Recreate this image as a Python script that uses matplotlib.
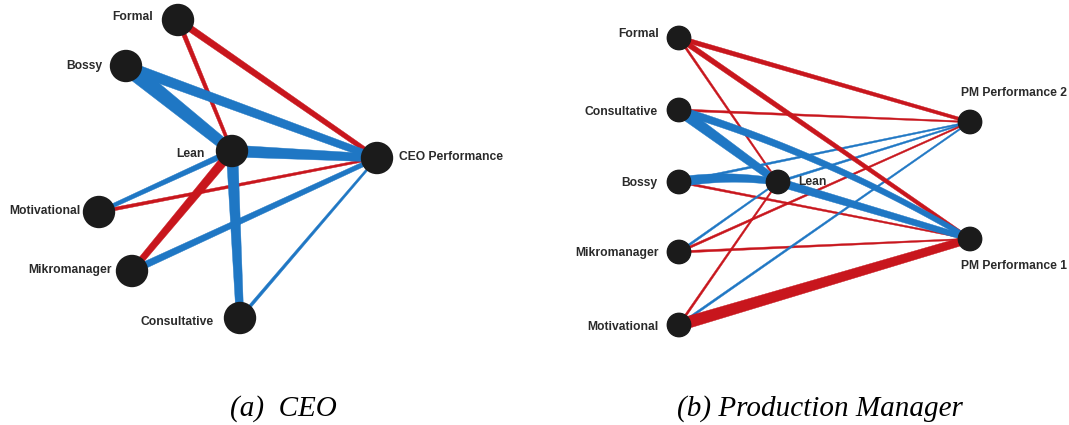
import matplotlib
matplotlib.use("Agg")
import numpy as np
import matplotlib.pyplot as plt
from matplotlib.patches import Circle, Polygon

# ---------------- data ----------------
# (a) CEO network: edge endpoints and signed edge weights (blue = positive, red = negative)
ceo_nodes = ["Formal", "Bossy", "Lean", "CEO Performance", "Motivational", "Mikromanager", "Consultative"]
ceo_src = ["Formal", "Formal", "Bossy", "Bossy", "Lean", "Lean", "Motivational", "Lean",
           "Mikromanager", "Lean", "Consultative"]
ceo_dst = ["CEO Performance", "Lean", "Lean", "CEO Performance", "CEO Performance", "Motivational",
           "CEO Performance", "Mikromanager", "CEO Performance", "Consultative", "CEO Performance"]
ceo_w = [-0.30, -0.20, 0.70, 0.46, 0.52, 0.25, -0.15, -0.40, 0.30, 0.50, 0.14]

# (b) Production Manager network
pm_nodes = ["Formal", "Consultative", "Bossy", "Mikromanager", "Motivational", "Lean",
            "PM Performance 2", "PM Performance 1"]
pm_src = ["Formal", "Formal", "Formal", "Consultative", "Consultative", "Consultative",
          "Bossy", "Bossy", "Bossy", "Lean", "Lean", "Mikromanager", "Mikromanager",
          "Mikromanager", "Motivational", "Motivational", "Motivational"]
pm_dst = ["PM Performance 2", "PM Performance 1", "Lean", "PM Performance 2", "Lean",
          "PM Performance 1", "Lean", "PM Performance 2", "PM Performance 1",
          "PM Performance 1", "PM Performance 2", "Lean", "PM Performance 2",
          "PM Performance 1", "Lean", "PM Performance 2", "PM Performance 1"]
pm_w = [-0.21, -0.23, -0.10, -0.10, 0.48, 0.33, 0.44, 0.10, -0.10, 0.36, 0.10,
        0.10, -0.10, -0.10, -0.10, 0.10, -0.52]

captions = ["(a)  CEO", "(b) Production Manager"]

# ---------------- layout / style ----------------
W, H = 1069, 425
POS_BLUE = "#1f77c4"
NEG_RED = "#c8161d"
NODE_COL = "#1b1b1b"
LABEL_COL = "#2a2a2a"
WSCALE = 20.0          # pixels of edge width per unit weight
TAPER = (1.15, 0.75)   # width factor at source end, at target end

ceo_pos = {"Formal": (178, 20), "Bossy": (126, 66), "Lean": (232, 151),
           "CEO Performance": (377, 158), "Motivational": (99, 212),
           "Mikromanager": (132, 271), "Consultative": (240, 318)}
ceo_lab = {"Formal": (153, 17, "right"), "Bossy": (102, 66, "right"), "Lean": (205, 154, "right"),
           "CEO Performance": (399, 157, "left"), "Motivational": (81, 211, "right"),
           "Mikromanager": (112, 270, "right"), "Consultative": (214, 322, "right")}
ceo_r = 15.5

pm_pos = {"Formal": (679, 38), "Consultative": (679, 110), "Bossy": (679, 182),
          "Mikromanager": (679, 252), "Motivational": (679, 325), "Lean": (778, 182),
          "PM Performance 2": (970, 122), "PM Performance 1": (970, 239)}
pm_lab = {"Formal": (659, 34, "right"), "Consultative": (658, 112, "right"),
          "Bossy": (657, 183, "right"), "Mikromanager": (659, 253, "right"),
          "Motivational": (659, 327, "right"), "Lean": (798, 182, "left"),
          "PM Performance 2": (961, 93, "left"), "PM Performance 1": (961, 266, "left")}
pm_r = 11.7
pm_curve = {("Bossy", "Lean"): 0.08, ("Consultative", "PM Performance 1"): 0.06}

fig = plt.figure(figsize=(W / 100, H / 100), dpi=100)
ax = fig.add_axes([0, 0, 1, 1])
ax.set_xlim(0, W)
ax.set_ylim(H, 0)
ax.axis("off")


def edge_polygon(a, b, width, k):
    a = np.asarray(a, float)
    b = np.asarray(b, float)
    d = b - a
    m = (a + b) / 2
    c = m + k * np.array([d[1], -d[0]])
    t = np.linspace(0, 1, 60)[:, None]
    pts = (1 - t) ** 2 * a + 2 * (1 - t) * t * c + t ** 2 * b
    tan = 2 * (1 - t) * (c - a) + 2 * t * (b - c)
    tan = tan / np.linalg.norm(tan, axis=1, keepdims=True)
    nrm = np.column_stack([-tan[:, 1], tan[:, 0]])
    half = width / 2 * (TAPER[0] + (TAPER[1] - TAPER[0]) * t)
    left = pts + nrm * half
    right = pts - nrm * half
    return np.vstack([left, right[::-1]])


def draw_net(pos, labs, r, src, dst, w, curves):
    order = sorted(range(len(w)), key=lambda i: abs(w[i]))
    for i in order:
        col = POS_BLUE if w[i] > 0 else NEG_RED
        k = curves.get((src[i], dst[i]), 0.0)
        poly = edge_polygon(pos[src[i]], pos[dst[i]], abs(w[i]) * WSCALE, k)
        ax.add_patch(Polygon(poly, closed=True, facecolor=col, edgecolor=col,
                             lw=0.3, zorder=2))
    for n, (x, y) in pos.items():
        ax.add_patch(Circle((x, y), r, color=NODE_COL, zorder=5))
        lx, ly, ha = labs[n]
        ax.text(lx, ly, n, ha=ha, va="center", fontsize=8.7, fontweight="bold",
                family="Liberation Sans", color=LABEL_COL, zorder=6)


draw_net(ceo_pos, ceo_lab, ceo_r, ceo_src, ceo_dst, ceo_w, {})
draw_net(pm_pos, pm_lab, pm_r, pm_src, pm_dst, pm_w, pm_curve)

cap_x = [230, 677]
for cx, c in zip(cap_x, captions):
    ax.text(cx, 409, c, ha="left", va="center", fontsize=21, style="italic",
            family="Liberation Serif", color="black")

fig.savefig("out.png", dpi=100)
